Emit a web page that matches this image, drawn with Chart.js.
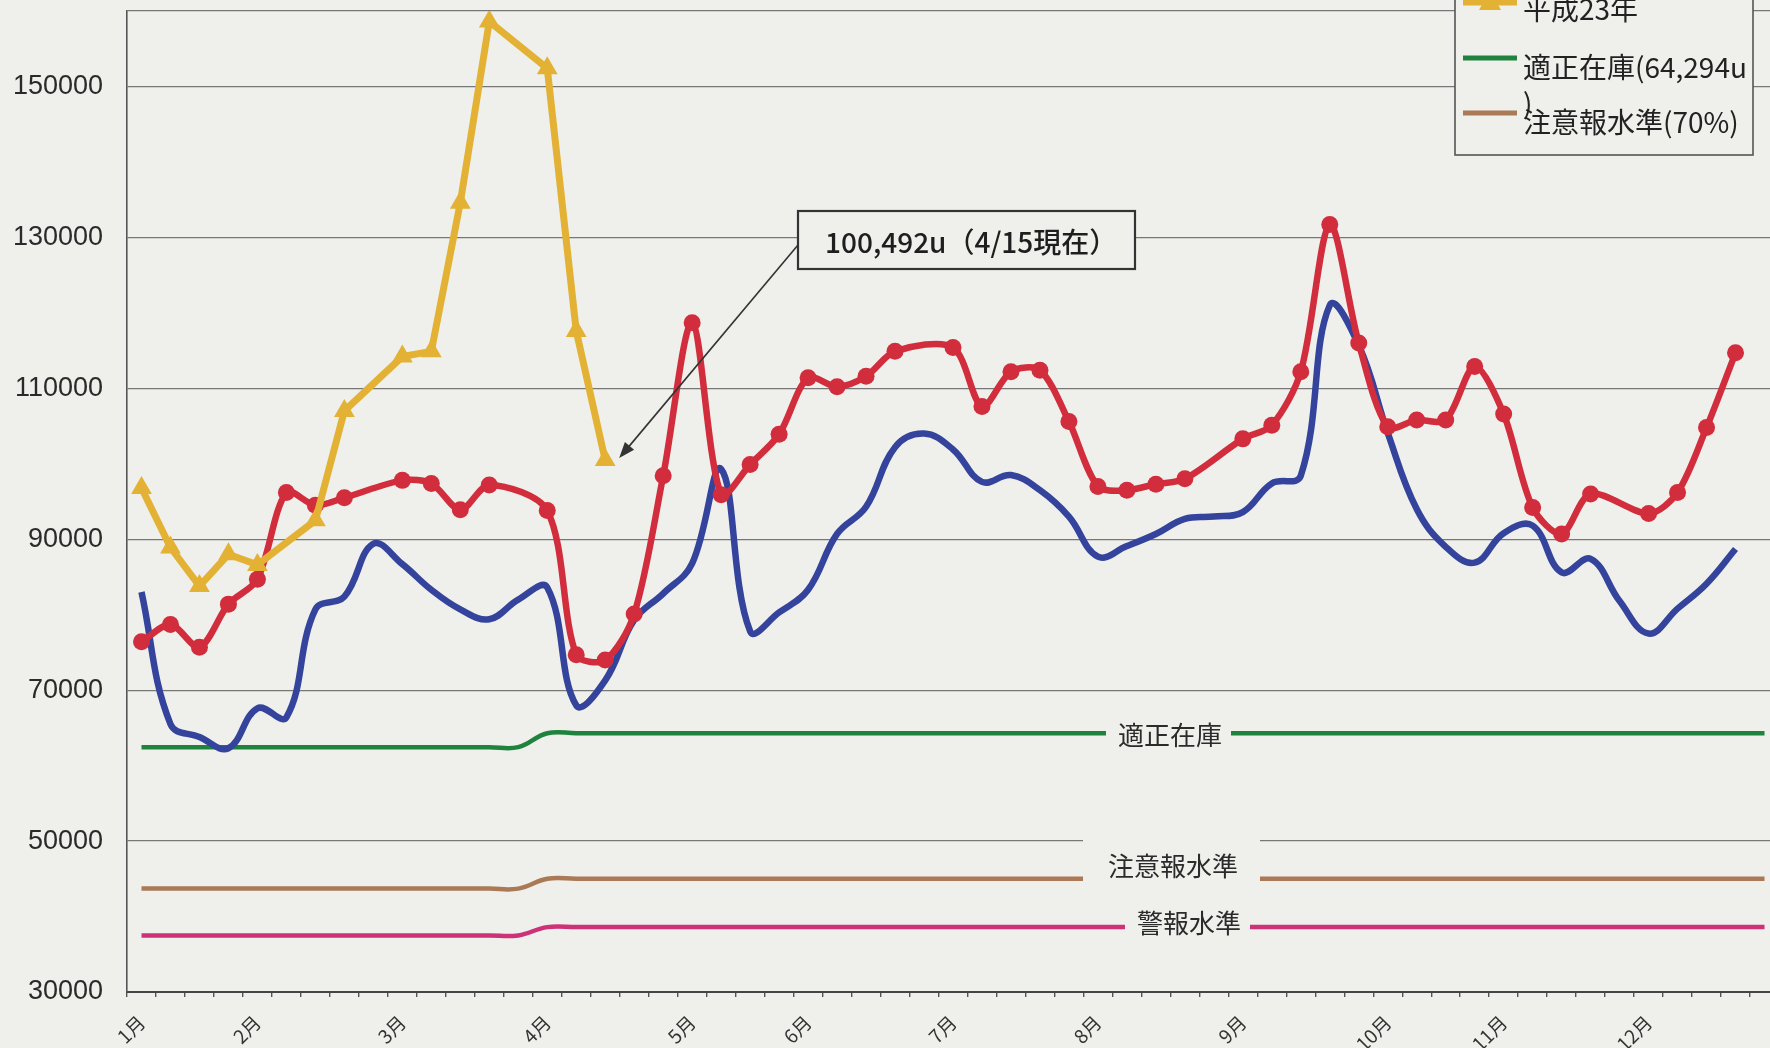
<!DOCTYPE html>
<html><head><meta charset="utf-8">
<script src="https://cdn.jsdelivr.net/npm/chart.js@4.4.1/dist/chart.umd.min.js"></script>
<style>
html,body{margin:0;padding:0;background:#efefec;overflow:hidden;}
#wrap{width:1770px;height:1048px;position:relative;overflow:hidden;}
#c{display:block;}
</style></head><body>
<div id="wrap"><canvas id="c" width="1779" height="1048"></canvas></div>
<script>
// ---- data ----
const weekCount = 57;
const monthLabels = ['1月','2月','3月','4月','5月','6月','7月','8月','9月','10月','11月','12月'];
const monthStartWeek = [0,4,9,14,19,23,28,33,38,43,47,52];
const yTickValues = [30000,50000,70000,90000,110000,130000,150000,160000];

const h23 = [96800,88900,83800,88000,86600,null,92500,107000,null,114200,114900,134600,158600,null,152400,117600,100492];

const h22 = [76400,78700,75700,81400,84700,96200,94500,95500,null,97800,
             97400,93900,97200,null,93800,74700,74000,80100,98400,118700,
             95900,99900,103900,111400,110200,111600,114900,null,115400,107600,
             112200,112400,105600,97000,96500,97300,98000,null,103300,105100,
             112200,131700,116000,104900,105800,105800,112900,106600,94200,90700,
             96000,null,93400,96200,104800,114700];

const h21 = [83000,65500,63800,62300,67600,66400,80700,82400,89400,86700,
             83300,80700,79400,82000,83600,68000,71300,79300,82800,86800,
             99300,77800,80300,83300,90700,94300,102200,104000,101900,97600,
             98500,96500,93000,87700,89100,90700,92700,93000,93600,97400,
             98400,121000,115700,104100,94000,89000,86900,90800,91800,85600,
             87400,81800,77500,80800,84100,88700];

const properStock = [62450,62450,62450,62450,62450,62450,62450,62450,62450,62450,
                     62450,62450,62450,62450,64294,64294,64294,64294,64294,64294,
                     64294,64294,64294,64294,64294,64294,64294,64294,64294,64294,
                     64294,64294,64294,64294,64294,64294,64294,64294,64294,64294,
                     64294,64294,64294,64294,64294,64294,64294,64294,64294,64294,
                     64294,64294,64294,64294,64294,64294,64294];
const cautionLevel = [43700,43700,43700,43700,43700,43700,43700,43700,43700,43700,
                      43700,43700,43700,43700,45000,45000,45000,45000,45000,45000,
                      45000,45000,45000,45000,45000,45000,45000,45000,45000,45000,
                      45000,45000,45000,45000,45000,45000,45000,45000,45000,45000,
                      45000,45000,45000,45000,45000,45000,45000,45000,45000,45000,
                      45000,45000,45000,45000,45000,45000,45000];
const warningLevel = [37500,37500,37500,37500,37500,37500,37500,37500,37500,37500,
                      37500,37500,37500,37500,38600,38600,38600,38600,38600,38600,
                      38600,38600,38600,38600,38600,38600,38600,38600,38600,38600,
                      38600,38600,38600,38600,38600,38600,38600,38600,38600,38600,
                      38600,38600,38600,38600,38600,38600,38600,38600,38600,38600,
                      38600,38600,38600,38600,38600,38600,38600];

const calloutText = '100,492u（4/15現在）';

// ---- build ----
const weekLabels = Array.from({length: weekCount}, (_, i) => {
  const m = monthStartWeek.indexOf(i);
  return m >= 0 ? monthLabels[m] : '';
});

const BG = '#efefec';
const JP = '"Noto Sans CJK JP","Noto Sans",sans-serif';
const C = {
  yellow:'#e3b234', red:'#d22d3c', blue:'#34439b',
  green:'#1f833d', brown:'#a97a55', magenta:'#cd3278'
};

const paperPlugin = {
  id:'paper',
  beforeDraw(chart){
    const ctx = chart.ctx; ctx.save();
    ctx.fillStyle = BG; ctx.fillRect(0,0,chart.width,chart.height);
    ctx.restore();
  }
};

function labelOnLine(ctx, text, cx, cy, x0, x1, y0, y1){
  ctx.fillStyle = BG;
  ctx.fillRect(x0, y0, x1 - x0, y1 - y0);
  ctx.fillStyle = '#2b2b2b';
  ctx.font = '26px ' + JP;
  ctx.textAlign = 'center'; ctx.textBaseline = 'middle';
  ctx.fillText(text, cx, cy);
}

const notesPlugin = {
  id:'notes',
  afterDatasetsDraw(chart){
    const ctx = chart.ctx, ys = chart.scales.y;
    ctx.save();
    const gy = ys.getPixelForValue(properStock[36]);
    labelOnLine(ctx, '適正在庫', 1170, gy + 2, 1106, 1231, gy - 14, gy + 16);
    const by = ys.getPixelForValue(cautionLevel[36]);
    labelOnLine(ctx, '注意報水準', 1173, by - 13, 1083, 1260, by - 48, by + 8);
    const my = ys.getPixelForValue(warningLevel[36]);
    labelOnLine(ctx, '警報水準', 1189, my - 4, 1125, 1250, my - 18, my + 12);

    // callout box
    const bx0 = 798, bx1 = 1135, by0 = 211, by1 = 269;
    ctx.fillStyle = BG; ctx.fillRect(bx0, by0, bx1 - bx0, by1 - by0);
    ctx.strokeStyle = '#333'; ctx.lineWidth = 2.2;
    ctx.strokeRect(bx0, by0, bx1 - bx0, by1 - by0);
    ctx.fillStyle = '#1e1e1e'; ctx.font = '500 28px ' + JP;
    ctx.textAlign = 'left'; ctx.textBaseline = 'middle';
    ctx.fillText(calloutText, 825, 242);

    // arrow to latest 平成23年 point
    const meta = chart.getDatasetMeta(0);
    const pt = meta.data[h23.length - 1];
    const tx = pt.x + 14, ty = pt.y - 2;
    const sx = bx0, sy = 245;
    const ang = Math.atan2(ty - sy, tx - sx);
    ctx.strokeStyle = '#333'; ctx.lineWidth = 1.6;
    ctx.beginPath(); ctx.moveTo(sx, sy);
    ctx.lineTo(tx - Math.cos(ang) * 12, ty - Math.sin(ang) * 12); ctx.stroke();
    ctx.fillStyle = '#333';
    ctx.beginPath();
    ctx.moveTo(tx, ty);
    ctx.lineTo(tx - Math.cos(ang) * 16 + Math.sin(ang) * 6, ty - Math.sin(ang) * 16 - Math.cos(ang) * 6);
    ctx.lineTo(tx - Math.cos(ang) * 16 - Math.sin(ang) * 6, ty - Math.sin(ang) * 16 + Math.cos(ang) * 6);
    ctx.closePath(); ctx.fill();
    ctx.restore();
  },
  afterDraw(chart){
    const ctx = chart.ctx; ctx.save();
    // legend box (top part cut off like the reference)
    const lx0 = 1455, lx1 = 1753, ly1 = 155;
    ctx.fillStyle = BG; ctx.fillRect(lx0, -5, lx1 - lx0, ly1 + 5);
    ctx.strokeStyle = '#555'; ctx.lineWidth = 1.6;
    ctx.strokeRect(lx0, -5, lx1 - lx0, ly1 + 5);
    const ds = chart.data.datasets;
    const items = [
      {d: ds[0], lineY: 2, textY: 9, lines: [ds[0].label], tri: true},
      {d: ds[3], lineY: 58, textY: 67, lines: ['適正在庫(64,294u', ')']},
      {d: ds[4], lineY: 113, textY: 122, lines: [ds[4].label]}
    ];
    ctx.font = '28px ' + JP; ctx.textAlign = 'left'; ctx.textBaseline = 'middle';
    items.forEach(it => {
      ctx.strokeStyle = it.d.borderColor; ctx.lineWidth = it.tri ? 7 : 5;
      ctx.beginPath(); ctx.moveTo(1463, it.lineY); ctx.lineTo(1517, it.lineY); ctx.stroke();
      if (it.tri) {
        ctx.fillStyle = it.d.borderColor;
        ctx.beginPath(); ctx.moveTo(1490, it.lineY - 12); ctx.lineTo(1501, it.lineY + 8);
        ctx.lineTo(1479, it.lineY + 8); ctx.closePath(); ctx.fill();
      }
      ctx.fillStyle = '#222';
      it.lines.forEach((t, k) => ctx.fillText(t, 1523, it.textY + k * 36));
    });
    ctx.restore();
  }
};

new Chart(document.getElementById('c'), {
  type: 'line',
  data: {
    labels: weekLabels,
    datasets: [
      {label:'平成23年', data:h23, borderColor:C.yellow, backgroundColor:C.yellow,
       borderWidth:7, tension:0, spanGaps:true, pointStyle:'triangle', pointRadius:12,
       pointBorderWidth:0, pointBackgroundColor:C.yellow, order:0},
      {label:'平成22年', data:h22, borderColor:C.red, backgroundColor:C.red,
       borderWidth:6.5, tension:0.3, spanGaps:true, pointRadius:8.5,
       pointBorderWidth:0, pointBackgroundColor:C.red, order:1},
      {label:'平成21年', data:h21, borderColor:C.blue, borderWidth:6.5, tension:0.4,
       pointRadius:0, order:2},
      {label:'適正在庫(64,294u)', data:properStock, borderColor:C.green, borderWidth:4.5,
       tension:0.4, pointRadius:0, order:3},
      {label:'注意報水準(70%)', data:cautionLevel, borderColor:C.brown, borderWidth:4.5,
       tension:0.4, pointRadius:0, order:4},
      {label:'警報水準', data:warningLevel, borderColor:C.magenta, borderWidth:4.5,
       tension:0.4, pointRadius:0, order:5}
    ]
  },
  options: {
    responsive:false, animation:false, devicePixelRatio:1,
    layout:{autoPadding:false, padding:{top:11, left:0, right:0, bottom:0}},
    plugins:{legend:{display:false}, tooltip:{enabled:false}},
    scales:{
      x:{
        type:'category', offset:true,
        grid:{display:true, drawOnChartArea:false, drawTicks:true, tickLength:5,
              color:'#555', lineWidth:1.4, offset:true},
        border:{display:true, color:'#444', width:2},
        ticks:{autoSkip:false, maxRotation:45, minRotation:45, padding:14,
               color:'#333', font:{family:JP, size:19}},
        afterFit(s){ s.height = 56; s.paddingLeft = 0; s.paddingRight = 0; }
      },
      y:{
        min:30000, max:160000,
        afterBuildTicks(s){ s.ticks = yTickValues.map(v => ({value:v})); },
        grid:{color:'#777', lineWidth:1.2, drawTicks:false},
        border:{display:true, color:'#555', width:1.6},
        ticks:{padding:24, color:'#2a2a2a',
               font:{family:'"Liberation Sans",Arial,sans-serif', size:27},
               callback:v => (v === 160000 ? '' : String(v))},
        afterFit(s){ s.width = 127; s.paddingTop = 0; s.paddingBottom = 0; }
      }
    }
  },
  plugins:[paperPlugin, notesPlugin]
});
</script>
</body></html>
